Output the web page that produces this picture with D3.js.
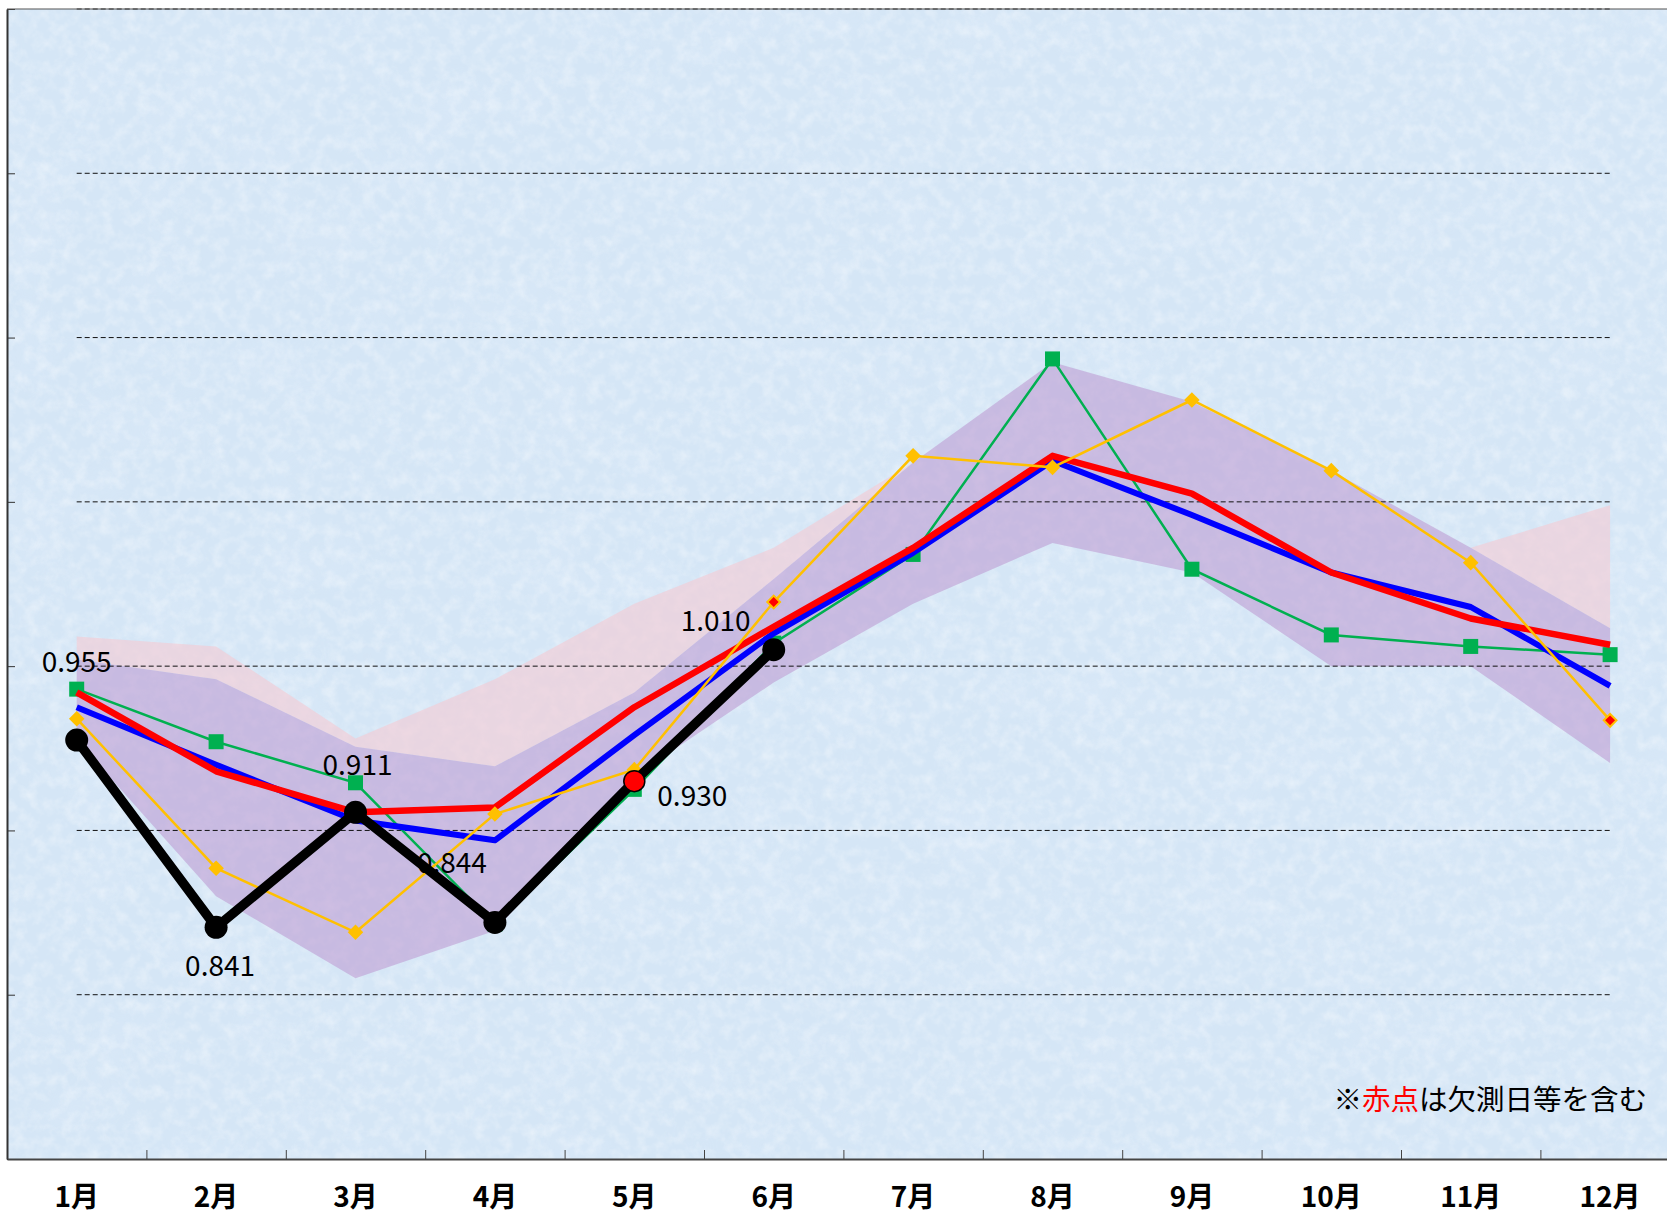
<!DOCTYPE html>
<html>
<head>
<meta charset="utf-8">
<script src="https://cdn.jsdelivr.net/npm/d3@7"></script>
<style>
  body { margin: 0; background: #fff; }
  svg { display: block; }
  text { font-family: "Noto Sans CJK JP", "Noto Sans", sans-serif; }
</style>
</head>
<body>
<svg id="chart" width="1667" height="1214"></svg>
<script>
// Categories
var months = ['1月', '2月', '3月', '4月', '5月', '6月', '7月', '8月', '9月', '10月', '11月', '12月'];

// Shaded range: lower edge, middle edge (lavender / pink boundary), upper edge
var bandLow  = [0.955, 0.860, 0.810, 0.839, 0.933, 0.990, 1.038, 1.075, 1.057, 1.000, 1.000, 0.941];
var bandMid  = [1.004, 0.992, 0.951, 0.939, 0.984, 1.053, 1.124, 1.185, 1.161, 1.119, 1.072, 1.023];
var bandHigh = [1.018, 1.012, 0.956, 0.992, 1.038, 1.072, 1.124, 1.185, 1.161, 1.119, 1.072, 1.098];

// Series values
var seriesGreen  = [0.986, 0.954, 0.929, 0.843, 0.925, 1.014, 1.068, 1.187, 1.059, 1.019, 1.012, 1.007];
var seriesBlue   = [0.975, 0.940, 0.906, 0.894, 0.958, 1.020, 1.069, 1.125, 1.092, 1.057, 1.036, 0.988];
var seriesRed    = [0.984, 0.936, 0.911, 0.914, 0.975, 1.024, 1.072, 1.128, 1.105, 1.057, 1.029, 1.013];
var seriesYellow = [0.968, 0.877, 0.838, 0.910, 0.937, 1.039, 1.128, 1.121, 1.162, 1.119, 1.063, 0.967];
var seriesBlack  = [0.955, 0.841, 0.911, 0.844, 0.930, 1.010, null, null, null, null, null, null];

// Points that include missing measurement days (drawn red)
var yellowMissing = [false, false, false, false, false, true, false, false, false, false, false, true];
var blackMissing  = [false, false, false, false, true, false, false, false, false, false, false, false];

// Axis ticks
var yTicks = [0.7, 0.8, 0.9, 1.0, 1.1, 1.2, 1.3, 1.4];
var gridValues = [0.8, 0.9, 1.0, 1.1, 1.2, 1.3, 1.4];

// Footnote pieces
var notePieces = ['※', '赤点', 'は欠測日等を含む'];

var svg = d3.select('#chart');

// Plot geometry
var plotLeft = 7, plotTop = 9, plotBottom = 1159, step = 139.4;

var x = d3.scaleBand().domain(months).range([plotLeft, plotLeft + 12 * step]).padding(0);
var cx = function(i) { return x(months[i]) + x.bandwidth() / 2; };
var xi = d3.scaleLinear().domain([0, 12]).range([plotLeft, plotLeft + 12 * step]);
var y = d3.scaleLinear().domain([0.7, 1.4]).range([plotBottom, plotTop]);

// Textured light blue background
var defs = svg.append('defs');
var tex = defs.append('filter').attr('id', 'tex')
    .attr('x', 0).attr('y', 0).attr('width', '100%').attr('height', '100%');
tex.append('feTurbulence').attr('type', 'fractalNoise')
    .attr('baseFrequency', '0.08').attr('numOctaves', 3).attr('seed', 7);
tex.append('feColorMatrix').attr('type', 'matrix')
    .attr('values', '0 0 0 0 1  0 0 0 0 1  0 0 0 0 1  1.8 0 0 0 -0.72');

var tex2 = defs.append('filter').attr('id', 'tex2')
    .attr('x', 0).attr('y', 0).attr('width', '100%').attr('height', '100%');
tex2.append('feTurbulence').attr('type', 'fractalNoise')
    .attr('baseFrequency', '0.015').attr('numOctaves', 2).attr('seed', 3);
tex2.append('feColorMatrix').attr('type', 'matrix')
    .attr('values', '0 0 0 0 0.74  0 0 0 0 0.84  0 0 0 0 0.96  0 1.6 0 0 -0.75');

var plotW = 1667 - plotLeft, plotH = plotBottom - plotTop;
svg.append('rect')
    .attr('x', plotLeft).attr('y', plotTop)
    .attr('width', plotW).attr('height', plotH)
    .attr('fill', '#d5e6f6');
svg.append('rect')
    .attr('x', plotLeft).attr('y', plotTop)
    .attr('width', plotW).attr('height', plotH)
    .attr('filter', 'url(#tex2)').attr('opacity', 0.5);
svg.append('rect')
    .attr('x', plotLeft).attr('y', plotTop)
    .attr('width', plotW).attr('height', plotH)
    .attr('filter', 'url(#tex)').attr('opacity', 0.4);

// Shaded bands
var idx = d3.range(months.length);

var pinkArea = d3.area()
    .x(function(i) { return cx(i); })
    .y0(function(i) { return y(bandMid[i]); })
    .y1(function(i) { return y(bandHigh[i]); });

var lavArea = d3.area()
    .x(function(i) { return cx(i); })
    .y0(function(i) { return y(bandLow[i]); })
    .y1(function(i) { return y(bandMid[i]); });

svg.append('path').attr('d', pinkArea(idx))
    .attr('fill', '#f2ccd6').attr('fill-opacity', 0.65);
svg.append('path').attr('d', lavArea(idx))
    .attr('fill', '#bc96d0').attr('fill-opacity', 0.55);

// Dashed grid lines
svg.append('g').selectAll('line')
    .data(gridValues)
    .enter().append('line')
    .attr('x1', cx(0)).attr('x2', cx(11))
    .attr('y1', function(d) { return y(d); })
    .attr('y2', function(d) { return y(d); })
    .attr('stroke', '#111')
    .attr('stroke-width', 1)
    .attr('stroke-dasharray', '5,3');

// Axes (ticks pointing inward, no numbers)
var yAxis = svg.append('g')
    .attr('transform', 'translate(' + plotLeft + ',0)')
    .call(d3.axisLeft(y).tickValues(yTicks).tickSize(-8).tickSizeOuter(0).tickFormat(''));
yAxis.select('.domain').attr('stroke', '#333').attr('stroke-width', 2);
yAxis.selectAll('.tick line').attr('stroke', '#333');

var xAxis = svg.append('g')
    .attr('transform', 'translate(0,' + plotBottom + ')')
    .call(d3.axisBottom(xi).tickValues(d3.range(1, 12)).tickSize(-9).tickSizeOuter(0).tickFormat(''));
xAxis.select('.domain').attr('stroke', '#444').attr('stroke-width', 2);
xAxis.selectAll('.tick line').attr('stroke', '#444');

svg.append('line')
    .attr('x1', plotLeft).attr('x2', 1667)
    .attr('y1', plotTop).attr('y2', plotTop)
    .attr('stroke', '#555').attr('stroke-width', 1.2);

// Line generator
var line = d3.line()
    .defined(function(d) { return d[1] != null; })
    .x(function(d) { return cx(d[0]); })
    .y(function(d) { return y(d[1]); });

function pairs(values) {
    return values.map(function(v, i) { return [i, v]; });
}

// Green series with square markers
svg.append('path').attr('d', line(pairs(seriesGreen)))
    .attr('fill', 'none').attr('stroke', '#00b050').attr('stroke-width', 2.5);
svg.append('g').selectAll('rect')
    .data(pairs(seriesGreen))
    .enter().append('rect')
    .attr('x', function(d) { return cx(d[0]) - 7.5; })
    .attr('y', function(d) { return y(d[1]) - 7.5; })
    .attr('width', 15).attr('height', 15)
    .attr('fill', '#00b050');

// Blue and red thick lines
svg.append('path').attr('d', line(pairs(seriesBlue)))
    .attr('fill', 'none').attr('stroke', '#0000ff').attr('stroke-width', 6)
    .attr('stroke-linejoin', 'round');
svg.append('path').attr('d', line(pairs(seriesRed)))
    .attr('fill', 'none').attr('stroke', '#ff0000').attr('stroke-width', 6.5)
    .attr('stroke-linejoin', 'round');

// Yellow series with diamond markers
svg.append('path').attr('d', line(pairs(seriesYellow)))
    .attr('fill', 'none').attr('stroke', '#ffc000').attr('stroke-width', 2.5);
svg.append('g').selectAll('rect')
    .data(pairs(seriesYellow))
    .enter().append('rect')
    .attr('transform', function(d) {
        return 'translate(' + cx(d[0]) + ',' + y(d[1]) + ') rotate(45)';
    })
    .attr('x', function(d) { return yellowMissing[d[0]] ? -4.5 : -5.5; })
    .attr('y', function(d) { return yellowMissing[d[0]] ? -4.5 : -5.5; })
    .attr('width', function(d) { return yellowMissing[d[0]] ? 9 : 11; })
    .attr('height', function(d) { return yellowMissing[d[0]] ? 9 : 11; })
    .attr('fill', function(d) { return yellowMissing[d[0]] ? '#ff0000' : '#ffc000'; })
    .attr('stroke', '#ffc000')
    .attr('stroke-width', function(d) { return yellowMissing[d[0]] ? 2 : 0; });

// Black series (current year) with circles
var blackPts = pairs(seriesBlack).filter(function(d) { return d[1] != null; });
svg.append('path').attr('d', line(pairs(seriesBlack)))
    .attr('fill', 'none').attr('stroke', '#000').attr('stroke-width', 9.5)
    .attr('stroke-linejoin', 'round');
svg.append('g').selectAll('circle')
    .data(blackPts)
    .enter().append('circle')
    .attr('cx', function(d) { return cx(d[0]); })
    .attr('cy', function(d) { return y(d[1]); })
    .attr('r', function(d) { return blackMissing[d[0]] ? 10.5 : 11.5; })
    .attr('fill', function(d) { return blackMissing[d[0]] ? '#ff0000' : '#000'; })
    .attr('stroke', '#000')
    .attr('stroke-width', function(d) { return blackMissing[d[0]] ? 1.5 : 0; });

// Value labels for the black series (offsets from the point)
var labelOffset = [[0, -68], [4, 49], [2, -37], [-43, -49], [58, 25], [-58, -19]];
var fmt = d3.format('.3f');
svg.append('g').selectAll('text')
    .data(blackPts)
    .enter().append('text')
    .attr('x', function(d, i) { return cx(d[0]) + labelOffset[i][0]; })
    .attr('y', function(d, i) { return y(d[1]) + labelOffset[i][1]; })
    .attr('text-anchor', 'middle')
    .attr('font-size', 28)
    .attr('fill', '#000')
    .text(function(d) { return fmt(d[1]); });

// Month labels
svg.append('g').selectAll('text')
    .data(months)
    .enter().append('text')
    .attr('x', function(d, i) { return cx(i); })
    .attr('y', 1207)
    .attr('text-anchor', 'middle')
    .attr('font-size', 28)
    .attr('font-weight', 'bold')
    .attr('fill', '#000')
    .text(function(d) { return d; });

// Footnote
var note = svg.append('text')
    .attr('x', 1647).attr('y', 1110)
    .attr('text-anchor', 'end')
    .attr('font-size', 28.5)
    .attr('fill', '#000');
note.selectAll('tspan')
    .data(notePieces)
    .enter().append('tspan')
    .attr('fill', function(d, i) { return i === 1 ? '#ff0000' : '#000'; })
    .text(function(d) { return d; });
</script>
</body>
</html>
